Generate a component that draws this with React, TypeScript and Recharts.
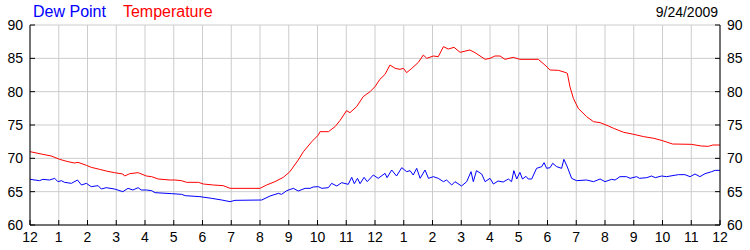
import { CartesianGrid, Line, LineChart, XAxis, YAxis } from 'recharts';

const FONT = '"Liberation Sans", Arial, sans-serif';
const TEMP_COLOR = '#ff0000';
const DEW_COLOR = '#0000ff';

// hours since midnight, 9/24/2009
const tempHours = [
  0, 0.39, 0.74, 1.03, 1.32, 1.55, 1.67, 1.96, 2.13, 2.42, 2.65, 2.94, 3.23, 3.29, 3.47, 3.76,
  4.05, 4.23, 4.46, 4.87, 5.04, 5.27, 5.45, 5.86, 6.03, 6.38, 6.72, 6.96, 8.0, 8.23, 8.52, 8.81,
  9.04, 9.33, 9.51, 9.8, 10.03, 10.09, 10.38, 10.61, 10.78, 11.01, 11.13, 11.36, 11.59, 11.83,
  12.0, 12.17, 12.35, 12.52, 12.7, 12.87, 12.99, 13.1, 13.28, 13.51, 13.68, 13.8, 14.03, 14.2,
  14.38, 14.55, 14.75, 14.96, 15.3, 15.48, 15.83, 16.0, 16.17, 16.35, 16.52, 16.81, 17.04, 17.68,
  17.91, 18.09, 18.38, 18.61, 18.69, 18.78, 18.9, 19.07, 19.36, 19.6, 19.83, 20.12, 20.3, 20.65,
  21.0, 21.35, 21.7, 22.0, 22.35, 23.0, 23.35, 23.6, 23.75, 24.0,
];
const temperature = [
  71.0, 70.65, 70.35, 69.85, 69.5, 69.3, 69.4, 68.95, 68.65, 68.35, 68.1, 67.85, 67.65, 67.35, 67.7, 67.85,
  67.35, 67.25, 66.9, 66.75, 66.75, 66.65, 66.4, 66.4, 66.15, 66.0, 65.9, 65.5, 65.5, 66.0, 66.5, 67.15,
  68.0, 69.75, 71.0, 72.5, 73.5, 74.0, 74.0, 74.75, 75.65, 77.15, 76.85, 77.75, 79.25, 80.0,
  80.75, 81.85, 82.6, 84.0, 83.5, 83.35, 83.5, 82.85, 83.5, 84.4, 85.5, 85.0, 85.35, 85.25,
  86.75, 86.4, 86.65, 85.9, 86.25, 85.85, 84.85, 85.0, 85.35, 85.35, 84.85, 85.15, 84.85, 84.85,
  84.0, 83.25, 83.2, 82.9, 82.75, 80.75, 79.0, 77.5, 76.25, 75.5, 75.35, 74.85, 74.5, 73.9,
  73.6, 73.25, 73.0, 72.65, 72.15, 72.1, 71.85, 71.8, 72.0, 72.0,
];

const dewHours = [
  0, 0.33, 0.45, 0.68, 0.86, 0.97, 1.09, 1.2, 1.44, 1.65, 1.79, 1.96, 2.13, 2.37, 2.48, 2.65,
  2.94, 3.23, 3.41, 3.58, 3.76, 3.87, 4.05, 4.23, 4.35, 4.93, 5.27, 5.4, 5.91, 6.32, 6.67, 6.96,
  7.13, 8.06, 8.35, 8.64, 8.75, 8.93, 9.16, 9.33, 9.57, 9.74, 9.85, 10.03, 10.15, 10.38, 10.49,
  10.67, 10.84, 11.07, 11.19, 11.28, 11.39, 11.48, 11.62, 11.73, 11.94, 12.11, 12.35, 12.42,
  12.58, 12.75, 12.93, 13.1, 13.22, 13.33, 13.45, 13.57, 13.74, 13.86, 14.03, 14.2, 14.38, 14.49,
  14.67, 14.78, 15.01, 15.19, 15.34, 15.42, 15.53, 15.71, 15.83, 16.0, 16.12, 16.28, 16.46,
  16.64, 16.75, 16.83, 16.93, 17.04, 17.13, 17.25, 17.33, 17.45, 17.62, 17.8, 17.88, 17.97,
  18.09, 18.18, 18.32, 18.49, 18.57, 18.69, 18.84, 19.01, 19.36, 19.6, 19.83, 20.0, 20.23,
  20.35, 20.52, 20.75, 20.87, 21.1, 21.2, 21.45, 21.62, 21.75, 21.97, 22.14, 22.55, 22.78,
  22.96, 23.13, 23.3, 23.48, 23.71, 23.83, 24.0,
];
const dewPoint = [
  66.85, 66.65, 66.85, 66.75, 67.0, 66.5, 66.65, 66.4, 66.25, 66.75, 66.0, 66.25, 65.75, 65.9, 65.4, 65.6,
  65.4, 65.0, 65.5, 65.25, 65.6, 65.25, 65.25, 65.15, 64.85, 64.7, 64.6, 64.4, 64.25, 64.0, 63.75, 63.5,
  63.7, 63.75, 64.35, 64.75, 64.6, 65.15, 65.5, 65.1, 65.5, 65.5, 65.7, 65.75, 65.5, 65.6, 66.25,
  65.85, 66.35, 66.1, 67.15, 66.2, 67.0, 66.2, 67.15, 66.5, 67.5, 67.0, 67.75, 67.1,
  68.25, 67.35, 68.6, 68.0, 68.15, 67.5, 68.5, 67.0, 68.25, 67.0, 67.25, 67.0, 66.5, 66.75,
  66.0, 66.5, 65.85, 66.5, 68.0, 66.5, 68.15, 67.65, 66.5, 67.0, 66.15, 66.6, 66.45,
  66.9, 66.5, 68.15, 66.9, 67.9, 66.9, 67.3, 66.9, 66.9, 68.5, 68.75, 69.35, 68.5,
  68.6, 69.25, 68.75, 68.5, 69.85, 68.7, 67.0, 66.65, 66.75, 66.5, 66.9, 66.5, 66.85,
  66.75, 67.25, 67.25, 67.0, 67.25, 67.0, 67.1, 67.35, 67.1, 67.35, 67.25, 67.55, 67.55,
  67.25, 67.65, 67.25, 67.7, 68.0, 68.2, 68.2,
];

const hourTicks = [0, 1, 2, 3, 4, 5, 6, 7, 8, 9, 10, 11, 12, 13, 14, 15, 16, 17, 18, 19, 20, 21, 22, 23, 24];
const valueTicks = [60, 65, 70, 75, 80, 85, 90];
const dateLabel = '9/24/2009';

const tempData = tempHours.map((h, i) => ({ h, temp: temperature[i] }));
const dewData = dewHours.map((h, i) => ({ h, dew: dewPoint[i] }));

const formatHour = (h: number) => String(h % 12 === 0 ? 12 : h % 12);
const tickStyle = { fill: '#000', fontSize: 14, fontFamily: FONT };

export default function App() {
  return (
    <div style={{ position: 'absolute', left: 0, top: 0, width: 750, height: 250, background: '#fff' }}>
      <div style={{ position: 'absolute', left: 33, top: 4, fontFamily: FONT, fontSize: 16, lineHeight: 1 }}>
        <span style={{ color: DEW_COLOR }}>Dew Point</span>
        <span style={{ color: TEMP_COLOR, marginLeft: 17 }}>Temperature</span>
      </div>
      <div style={{ position: 'absolute', right: 32, top: 5, fontFamily: FONT, fontSize: 14, lineHeight: 1 }}>
        {dateLabel}
      </div>
      <LineChart width={750} height={250} margin={{ top: 25, right: 0, bottom: 0, left: 0 }}>
        <CartesianGrid stroke="#cccccc" />
        <XAxis
          dataKey="h"
          type="number"
          domain={[0, 24]}
          ticks={hourTicks}
          tickFormatter={formatHour}
          interval={0}
          height={25}
          stroke="#000"
          tickSize={-5}
          tickMargin={12}
          tick={tickStyle}
        />
        <XAxis
          xAxisId="top"
          orientation="top"
          dataKey="h"
          type="number"
          domain={[0, 24]}
          ticks={hourTicks}
          interval={0}
          height={0}
          stroke="#000"
          tickSize={-5}
          tick={false}
        />
        <YAxis
          domain={[60, 90]}
          ticks={valueTicks}
          interval={0}
          width={30}
          stroke="#000"
          tickSize={-5}
          tickMargin={12}
          tick={tickStyle}
        />
        <YAxis
          yAxisId="right"
          orientation="right"
          domain={[60, 90]}
          ticks={valueTicks}
          interval={0}
          width={30}
          stroke="#000"
          tickSize={-5}
          tickMargin={12}
          tick={tickStyle}
        />
        <Line
          data={dewData}
          dataKey="dew"
          stroke={DEW_COLOR}
          strokeWidth={1}
          dot={false}
          type="linear"
          isAnimationActive={false}
        />
        <Line
          data={tempData}
          dataKey="temp"
          yAxisId="right"
          stroke={TEMP_COLOR}
          strokeWidth={1}
          dot={false}
          type="linear"
          isAnimationActive={false}
        />
      </LineChart>
    </div>
  );
}
